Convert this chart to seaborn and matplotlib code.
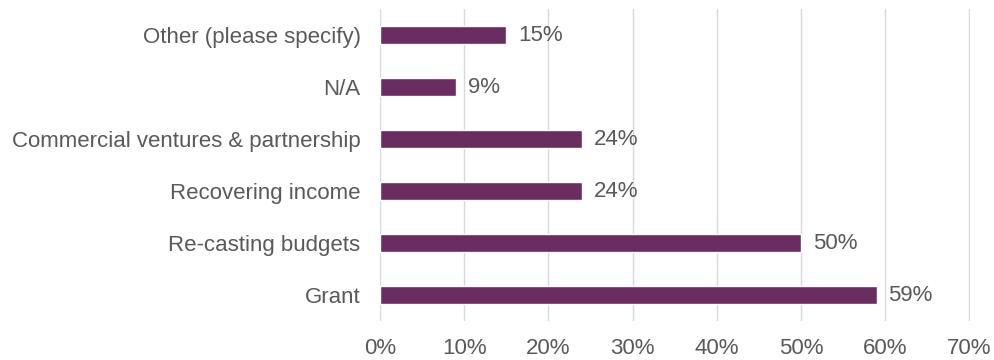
import matplotlib
matplotlib.use("Agg")
import matplotlib.pyplot as plt
import seaborn as sns
import pandas as pd

categories = ["Other (please specify)", "N/A", "Commercial ventures & partnership",
              "Recovering income", "Re-casting budgets", "Grant"]
values = [15, 9, 24, 24, 50, 59]
x_ticks = [0, 10, 20, 30, 40, 50, 60, 70]

sns.set_theme(style="white")
plt.rcParams["font.family"] = ["Liberation Sans", "DejaVu Sans"]

df = pd.DataFrame({"category": categories, "value": values})

fig = plt.figure(figsize=(9.94, 3.6), dpi=100)
ax = fig.add_axes([0.3823, 0.108, 0.5936, 0.867])

sns.barplot(data=df, x="value", y="category", orient="h", color="#6B2C62",
            saturation=1, width=0.36, ax=ax)

text_color = "#595959"
fs = 16
for i, v in enumerate(values):
    ax.text(v + 1.4, i, f"{v}%", va="center", ha="left", fontsize=fs, color=text_color)

ax.set_xlim(0, 70.1)
ax.set_ylim(5.5, -0.5)
ax.set_xticks(x_ticks)
ax.set_xticklabels([f"{t}%" for t in x_ticks])
ax.tick_params(axis="both", length=0, labelsize=fs, colors=text_color)
ax.tick_params(axis="y", pad=14)
ax.tick_params(axis="x", pad=12.5)
ax.set_xlabel("")
ax.set_ylabel("")
ax.xaxis.grid(True, color="#d9d9d9", linewidth=1)
ax.set_axisbelow(True)
for s in ax.spines.values():
    s.set_visible(False)

fig.savefig("out.png", dpi=100)
